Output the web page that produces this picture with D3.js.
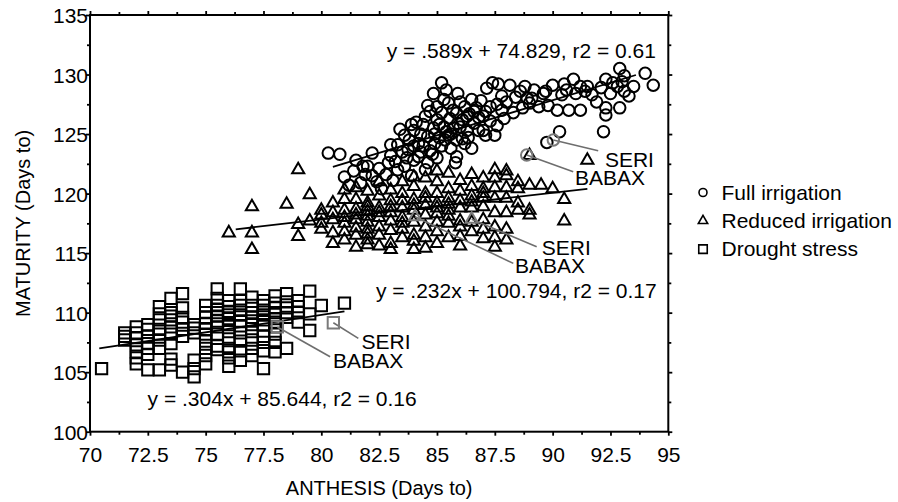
<!DOCTYPE html>
<html>
<head>
<meta charset="utf-8">
<script src="https://cdn.jsdelivr.net/npm/d3@7"></script>
<style>
  body { margin: 0; background: #fff; }
  text { font-family: "Liberation Sans", Arial, sans-serif; fill: #000; }
</style>
</head>
<body>
<div id="carte"></div>
<script>
// axis ticks
const xTicks = [70, 72.5, 75, 77.5, 80, 82.5, 85, 87.5, 90, 92.5, 95];
const yTicks = [100, 105, 110, 115, 120, 125, 130, 135];
const seriesNames = ["Full irrigation", "Reduced irrigation", "Drought stress"];

// full irrigation, [anthesis, maturity]
const fullIrrigation = [
  [80.3,123.4],[80.8,123.3],[81.0,121.4],[81.2,120.7],[81.4,121.9],[81.5,122.8],[81.7,120.9],[81.9,121.6],
  [82.0,122.3],[82.2,123.4],[82.4,121.0],[82.5,122.1],[82.6,120.4],[82.8,121.6],[82.9,122.6],[83.0,124.1],
  [83.0,123.2],[83.1,121.1],[83.3,124.1],[83.3,122.0],[83.4,125.4],[83.5,123.5],[83.6,122.3],[83.6,124.9],
  [83.75,123.7],[83.8,124.5],[83.9,121.5],[83.9,125.8],[84.0,125.3],[84.0,122.8],[84.1,126.0],[84.2,123.1],
  [84.2,124.2],[84.3,125.0],[84.4,124.0],[84.4,125.8],[84.5,126.5],[84.5,122.0],[84.6,124.8],[84.6,122.6],
  [84.6,127.4],[84.7,126.9],[84.7,123.6],[84.8,123.3],[84.85,128.4],[84.85,125.5],[84.9,124.2],[85.0,127.3],
  [85.0,123.0],[85.0,126.2],[85.1,125.8],[85.2,129.3],[85.2,126.8],[85.2,124.0],[85.3,127.9],[85.35,124.5],
  [85.4,128.7],[85.4,125.2],[85.5,127.6],[85.5,124.9],[85.56,126.3],[85.6,123.8],[85.7,127.0],[85.7,125.5],
  [85.8,122.6],[85.85,126.75],[85.85,124.5],[85.85,123.1],[85.9,128.4],[86.0,127.7],[86.0,125.6],[86.1,126.2],
  [86.2,127.3],[86.2,124.2],[86.3,125.3],[86.35,124.7],[86.4,126.7],[86.5,127.9],[86.5,123.8],[86.6,125.9],
  [86.7,127.2],[86.8,126.4],[86.9,127.8],[87.0,126.5],[87.0,125.3],[87.1,126.9],[87.1,124.9],[87.15,128.85],
  [87.3,127.3],[87.4,129.3],[87.5,124.9],[87.6,127.5],[87.6,125.7],[87.65,129.2],[87.8,128.2],[87.9,126.3],
  [88.0,127.7],[88.15,129.1],[88.3,126.8],[88.6,128.6],[88.7,127.2],[88.9,128.0],[89.1,128.0],[89.2,128.7],
  [89.4,127.3],[89.6,128.4],[89.7,128.6],[89.75,124.3],[89.8,127.4],[90.0,129.1],[90.2,127.0],[90.3,125.2],
  [90.4,128.3],[90.6,128.7],[90.7,127.0],[90.9,129.6],[91.0,128.4],[91.2,129.0],[91.2,127.0],[91.5,129.0],
  [91.7,128.3],[91.9,127.7],[92.1,128.9],[92.2,125.2],[92.3,129.6],[92.3,127.2],[92.3,126.6],[92.5,128.4],
  [92.8,129.0],[92.9,130.5],[92.9,127.2],[93.0,129.4],[93.1,128.6],[93.3,128.2],[93.5,129.0],[94.0,130.1],
  [94.35,129.1],
  [83.2,122.7],[83.7,123.0],[84.0,124.0],[84.3,123.5],[84.9,125.0],[85.1,124.7],[85.3,125.6],[85.6,125.0],
  [85.9,125.9],[86.1,124.6],[86.3,126.5],[86.6,126.9],[86.8,125.3],[87.3,126.1],[87.8,127.0],[88.4,128.1],
  [88.8,129.0],[89.0,127.6],[90.5,129.2],[91.4,128.6],[92.6,129.3],[93.1,129.9],[82.2,121.5],[81.8,122.3]
];

// reduced irrigation, [anthesis, [maturity ...]]
const reducedIrrigation = [
  [76,[116.7]],
  [77,[118.9,116.7,115.3]],
  [78.5,[119.1]],
  [79,[122.0,117.4,116.4]],
  [79.5,[119.9,117.7]],
  [80,[118.2,117.5,117.0,118.6]],
  [80.5,[119.2,117.8,116.7,115.8,118.4]],
  [81,[120.3,119.5,118.6,118.0,117.5,116.1,116.8]],
  [81.5,[120.5,119.5,118.7,117.8,117.1,116.5,115.5,118.2]],
  [82,[120.2,119.2,118.9,118.5,118.1,117.6,117.0,116.6,116.1,115.7]],
  [82.5,[121.0,119.8,118.8,118.0,117.2,116.5,115.6,118.4]],
  [83,[120.3,119.4,118.4,117.7,116.9,115.8,115.3,118.9]],
  [83.5,[121.0,120.0,119.4,118.8,118.0,117.0,116.3,117.5]],
  [84,[121.4,120.6,119.5,118.6,117.6,116.5,116.0,115.3,119.0]],
  [84.5,[121.3,120.0,119.0,118.2,117.2,116.3,115.4,119.6]],
  [85,[121.9,121.0,120.0,119.2,118.3,117.6,116.8,115.8,118.8]],
  [85.5,[121.7,120.4,119.6,118.6,117.5,116.3,119.1,118.1]],
  [86,[121.1,120.2,119.4,118.8,117.7,117.2,116.4,115.6]],
  [86.5,[121.6,120.6,119.8,118.8,117.6,116.8,119.3]],
  [87,[121.3,120.4,119.6,118.9,117.8,117.0,116.2,120.0]],
  [87.5,[122.0,121.3,120.5,119.6,118.4,117.2,116.3,115.5]],
  [88,[121.9,121.5,120.5,119.6,118.4,117.0,116.1]],
  [88.5,[121.0,120.4,119.2,118.6]],
  [89,[123.2,120.7,118.6,118.2]],
  [89.5,[120.7]],
  [90,[120.4]],
  [90.5,[119.5,117.7]],
  [91.5,[122.8]]
];

// drought stress, [anthesis, [maturity ...]]
const droughtStress = [
  [70.5,[105.3]],
  [71.5,[108.3,107.7,108.0]],
  [72,[108.8,108.3,107.9,107.3,106.7,106.2,105.7]],
  [72.5,[108.6,108.0,107.4,106.5,105.2,109.0,107.0]],
  [73,[110.5,109.4,108.2,107.7,107.0,105.2,108.6,109.9]],
  [73.5,[111.2,110.0,109.4,108.8,108.2,107.4,106.1,105.6,109.7]],
  [74,[111.6,110.4,109.2,108.6,108.0,105.0,109.6]],
  [74.5,[109.0,108.3,106.0,104.6,105.3,108.7]],
  [75,[110.6,110.0,109.6,109.1,108.6,107.6,107.0,105.7,106.4,108.2]],
  [75.5,[112.0,111.2,110.3,110.0,109.7,109.3,108.8,108.2,107.2,106.9,110.6]],
  [76,[111.0,110.5,110.1,109.5,109.0,108.4,107.8,107.0,106.2,105.5,106.7,109.8]],
  [76.5,[112.0,111.0,110.2,109.8,109.3,108.9,108.3,107.6,106.8,106.0,110.6]],
  [77,[111.3,110.6,110.0,109.6,109.0,108.4,107.0,106.4,109.3,107.7]],
  [77.5,[111.0,110.6,110.2,109.8,109.4,109.0,108.0,107.5,106.8,105.3]],
  [78,[111.4,110.8,110.4,110.0,109.5,108.8,108.2,107.5,106.7,109.2]],
  [78.5,[111.6,110.9,110.4,110.0,109.6,107.0]],
  [79,[111.0,110.5,110.0,109.2]],
  [79.5,[111.8,109.9,108.5]],
  [80,[110.6]],
  [81,[110.8]]
];

// fitted lines as drawn, [[x0,y0],[x1,y1]]
const fitLines = [
  [[80.5,122.24],[93.6,129.96]],
  [[76.3,117.0],[91.5,120.4]],
  [[70.4,107.0],[81.0,110.1]]
];
const equations = [
  "y = .589x + 74.829, r2 = 0.61",
  "y = .232x + 100.794, r2 = 0.17",
  "y = .304x + 85.644, r2 = 0.16"
];

// highlighted cultivars per series
const cultivars = ["SERI", "BABAX"];
const highlightFull = [[90.03,124.5],[88.88,123.24]];
const highlightReduced = [[86.5,117.84],[84.05,118.06]];
const highlightDrought = [[80.52,109.15],[78.1,108.8]];

function fromColumns(cols) {
  let out = [];
  for (let c of cols) for (let v of c[1]) out.push([c[0], v]);
  return out;
}

function scatter(w = 898, h = 502) {
  const svg = d3.create("svg")
    .attr("width", w).attr("height", h)
    .attr("viewBox", [0, 0, w, h]);

  let margin = { top: 15, right: 229.7, bottom: 70.3, left: 90 };

  let x = d3.scaleLinear().domain([70, 95]).range([margin.left, w - margin.right]);
  let y = d3.scaleLinear().domain([100, 135]).range([h - margin.bottom, margin.top]);

  const fmt = d => String(d);
  const xMinor = d3.range(70, 95.01, 1.25).filter(d => !xTicks.includes(d));
  const yMinor = d3.range(100, 135.01, 2.5).filter(d => !yTicks.includes(d));

  // ticks on the four sides, all pointing out
  function ticks(axis, vals, size, labels, transform) {
    let g = svg.append("g").attr("transform", transform)
      .call(axis.tickValues(vals).tickSize(size).tickSizeOuter(0)
        .tickFormat(labels ? fmt : ""));
    g.select(".domain").remove();
    g.selectAll("line").attr("stroke", "#000").attr("stroke-width", 1.8);
    g.selectAll("text").style("font-size", "21px").attr("fill", "#000");
    return g;
  }
  let bottom = ticks(d3.axisBottom(x), xTicks, 4, true, `translate(0,${y(100)})`);
  bottom.selectAll("text").attr("y", 15).attr("dy", "0.71em");
  ticks(d3.axisBottom(x), xMinor, 3, false, `translate(0,${y(100)})`);
  ticks(d3.axisTop(x), xTicks, 4, false, `translate(0,${y(135)})`);
  ticks(d3.axisTop(x), xMinor, 3, false, `translate(0,${y(135)})`);
  let left = ticks(d3.axisLeft(y), yTicks, 4, true, `translate(${x(70)},0)`);
  left.selectAll("text").attr("x", -2).attr("dy", "0.36em");
  ticks(d3.axisLeft(y), yMinor, 3, false, `translate(${x(70)},0)`);
  ticks(d3.axisRight(y), yTicks, 4, false, `translate(${x(95)},0)`);
  ticks(d3.axisRight(y), yMinor, 3, false, `translate(${x(95)},0)`);

  // frame
  svg.append("rect")
    .attr("x", x(70)).attr("y", y(135))
    .attr("width", x(95) - x(70)).attr("height", y(100) - y(135))
    .attr("fill", "none").attr("stroke", "#000").attr("stroke-width", 2);

  const shapes = [d3.symbolCircle, d3.symbolTriangle, d3.symbolSquare];
  const sizes = [104, 64, 128];
  const groups = [fullIrrigation, fromColumns(reducedIrrigation), fromColumns(droughtStress)];
  const highlights = [highlightFull, highlightReduced, highlightDrought];

  groups.forEach((pts, i) => {
    svg.append("g").selectAll("path")
      .data(pts)
      .enter()
      .append("path")
      .attr("d", d3.symbol().type(shapes[i]).size(sizes[i]))
      .attr("transform", d => `translate(${x(d[0])},${y(d[1])})`)
      .attr("fill", "none")
      .attr("stroke", "#000")
      .attr("stroke-width", 2);
  });

  // regression lines
  svg.append("g").selectAll("line")
    .data(fitLines)
    .enter()
    .append("line")
    .attr("x1", d => x(d[0][0])).attr("y1", d => y(d[0][1]))
    .attr("x2", d => x(d[1][0])).attr("y2", d => y(d[1][1]))
    .attr("stroke", "#000").attr("stroke-width", 1.8);

  // cultivar call-outs: [leader end, text anchor] in data units
  const callouts = [
    [[91.97,123.6],[92.26,122.23]], [[90.89,121.84],[90.97,120.72]],
    [[89.31,115.54],[89.53,114.84]], [[88.3,114.14],[88.37,113.33]],
    [[81.6,107.84],[81.74,106.95]], [[80.38,106.3],[80.51,105.33]]
  ];
  highlights.forEach((hl, i) => {
    hl.forEach((p, j) => {
      let c = callouts[i * 2 + j];
      svg.append("line")
        .attr("x1", x(p[0])).attr("y1", y(p[1]))
        .attr("x2", x(c[0][0])).attr("y2", y(c[0][1]))
        .attr("stroke", "#6e6e6e").attr("stroke-width", 1.6);
      svg.append("path")
        .attr("d", d3.symbol().type(shapes[i]).size(sizes[i])())
        .attr("transform", `translate(${x(p[0])},${y(p[1])})`)
        .attr("fill", "none").attr("stroke", "#7a7a7a").attr("stroke-width", 2);
      svg.append("text")
        .attr("x", x(c[1][0])).attr("y", y(c[1][1]))
        .style("font-size", "21px")
        .text(cultivars[j]);
    });
  });

  // equations
  const eqPos = [[82.83,131.36],[82.36,111.2],[72.49,102.16]];
  equations.forEach((t, i) => {
    svg.append("text")
      .attr("x", x(eqPos[i][0])).attr("y", y(eqPos[i][1]))
      .style("font-size", "21px")
      .text(t);
  });

  // axis titles
  svg.append("text")
    .attr("x", (x(70) + x(95)) / 2).attr("y", 495)
    .attr("text-anchor", "middle")
    .style("font-size", "20px")
    .text("ANTHESIS (Days to)");
  svg.append("text")
    .attr("transform", `translate(30,${(y(100) + y(135)) / 2}) rotate(-90)`)
    .attr("text-anchor", "middle")
    .style("font-size", "20px")
    .text("MATURITY (Days to)");

  // legend
  const legSizes = [50, 38, 72];
  let legend = svg.append("g").attr("transform", "translate(703,192.5)");
  seriesNames.forEach((name, i) => {
    let row = legend.append("g").attr("transform", `translate(0,${i * 28.3})`);
    row.append("path")
      .attr("d", d3.symbol().type(shapes[i]).size(legSizes[i])())
      .attr("fill", "none").attr("stroke", "#000").attr("stroke-width", 1.6);
    row.append("text")
      .attr("x", 18.5).attr("y", 7)
      .style("font-size", "21px")
      .text(name);
  });

  return svg.node();
}

document.getElementById("carte").appendChild(scatter());
</script>
</body>
</html>
